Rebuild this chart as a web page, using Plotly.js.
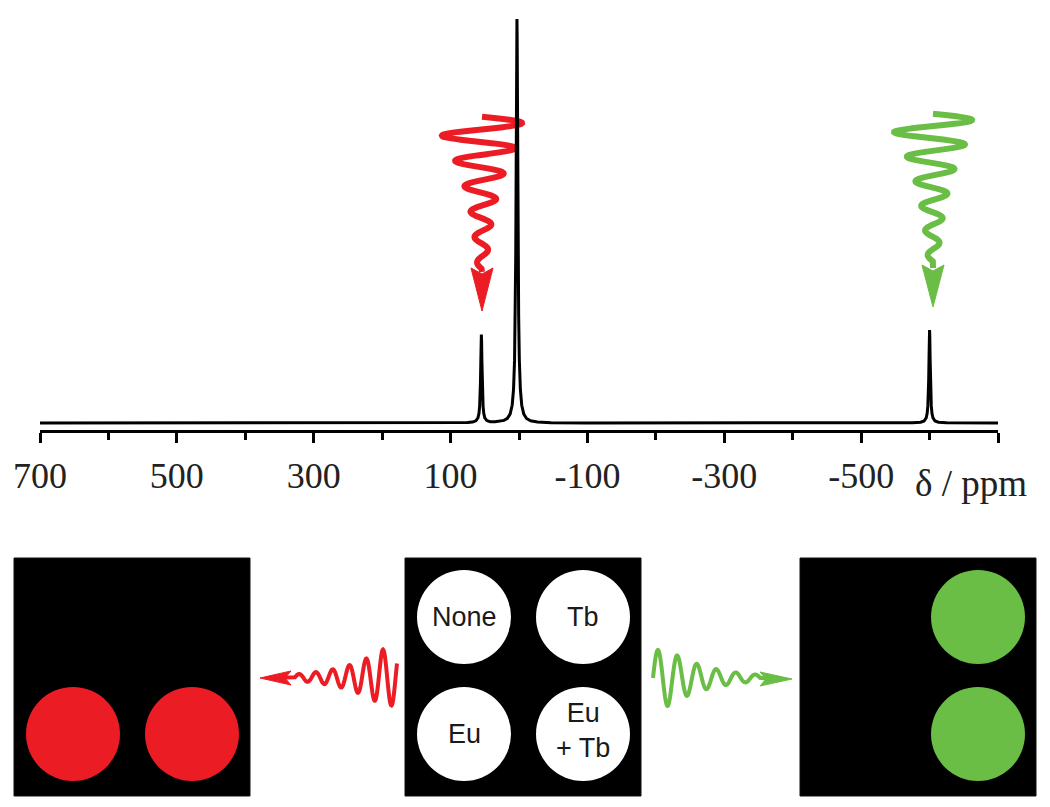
<!DOCTYPE html>
<html><head><meta charset="utf-8">
<script src="https://cdn.plot.ly/plotly-3.0.1.min.js"></script>
<style>html,body{margin:0;padding:0;background:#fff;} #chart{width:1050px;height:807px;}</style>
</head><body><div id="chart"></div>
<script>
// ---- spectrum data (chemical shift in ppm, intensity in arbitrary units) ----
const shiftPpm = [700, 400, 200, 120, 90, 75, 68, 63, 60, 58.5, 57.5, 56.8, 56.3, 55.8, 55.3, 55, 54.7, 54.2, 53.7, 53.2, 52.5, 51.5, 50, 47, 42, 35, 28, 22, 17, 13, 10, 8, 6.5, 5.5, 4.8, 4.2, 3.7, 3.3, 3, 2.7, 2.3, 1.8, 1.2, 0.5, -0.5, -2, -4, -7, -11, -17, -27, -47, -100, -300, -500, -560, -575, -587, -592, -595, -596.5, -597.5, -598.2, -598.7, -599.2, -599.7, -600, -600.3, -600.8, -601.3, -601.8, -602.5, -603.5, -605, -608, -613, -625, -650, -700];
const intensity = [0, 0.02, 0.05, 0.08, 0.1, 0.12, 0.23, 0.54, 1.26, 2.37, 4.2, 6.8, 10.1, 15.2, 20.6, 21.9, 20.6, 15.2, 10.1, 6.8, 4.2, 2.4, 1.3, 0.6, 0.33, 0.3, 0.4, 0.65, 1.15, 2.2, 4.4, 8.3, 15.5, 26.5, 41, 61, 82, 96, 100, 96, 82, 61, 41, 26.5, 15.5, 8.3, 4.4, 2.2, 1.13, 0.56, 0.25, 0.09, 0.02, 0, 0.01, 0.02, 0.05, 0.19, 0.5, 1.25, 2.4, 4.3, 7.1, 10.6, 15.9, 21.6, 23, 21.6, 15.9, 10.6, 7.1, 4.3, 2.4, 1.25, 0.5, 0.19, 0.05, 0.02, 0];

// ---- axis ticks ----
const tickValues = [700, 500, 300, 100, -100, -300, -500, -700];
const tickLabels = ['700', '500', '300', '100', '-100', '-300', '-500', ''];
const minorTickValues = [600, 400, 200, 0, -200, -400, -600];
const axisLabel = 'δ / ppm';

// ---- sample plate (2x2 wells) ----
const wellLabels = ['None', 'Tb', 'Eu', 'Eu<br>+ Tb'];
const europiumWells = [false, false, true, true];
const terbiumWells = [false, true, false, true];

const RED = '#ec1c24', GREEN = '#6abd45';
const W = 1050, H = 807;
const px = x => x / W, py = y => 1 - y / H;
function pathFrom(points, close) {
  return 'M' + points.map(p => px(p[0]).toFixed(5) + ',' + py(p[1]).toFixed(5)).join('L') + (close ? 'Z' : '');
}
// decaying vertical squiggle (amplitude flat until yRef, then decays)
function vWave(cx, y0, y1, yRef, A0, L, P) {
  const pts = [];
  for (let y = y0; y <= y1 + 1e-6; y += 0.5) {
    const A = A0 * Math.exp(-Math.max(0, y - yRef) / L);
    pts.push([cx + A * Math.sin(2 * Math.PI * (y - y0) / P), y]);
  }
  return pts;
}
// decaying horizontal squiggle
function hWave(xStart, dir, len, cy, tRef, A0, L, P, t0) {
  const pts = [];
  for (let t = 0; t <= len + 1e-6; t += 0.5) {
    const A = A0 * Math.exp(-Math.max(0, t - tRef) / L);
    pts.push([xStart + dir * t, cy - A * Math.sin(2 * Math.PI * (t - t0) / P)]);
  }
  return pts;
}

const shapes = [];
function addLine(pts, color, width, layer) {
  shapes.push({type: 'path', xref: 'paper', yref: 'paper', path: pathFrom(pts, false),
    line: {color: color, width: width}, layer: layer || 'above'});
}
function addFill(pts, color, layer) {
  shapes.push({type: 'path', xref: 'paper', yref: 'paper', path: pathFrom(pts, true),
    fillcolor: color, line: {color: color, width: 1}, layer: layer || 'above'});
}

// red wavy arrow (top, towards the Eu peak)
let rw = vWave(482, 116.65, 116.65 + 12 * 12.7, 137, 40, 60, 25.4);
rw.push([482, 272]);
addLine(rw, RED, 6, 'below');
addFill([[471, 268], [482, 311], [493, 268], [482, 274]], RED, 'below');

// green wavy arrow (top, towards the Tb peak)
let gw = vWave(933, 113.85, 113.85 + 12 * 12.3, 132, 39, 62, 24.6);
gw.push([933, 268]);
addLine(gw, GREEN, 6, 'below');
addFill([[922, 265], [933, 307], [944, 265], [933, 271]], GREEN, 'below');

// bottom red wavy arrow (pointing left)
let brw = hWave(397, -1, 9.8 + 11 * 8.4, 677.5, 15, 28, 40, 16.8, 9.8);
brw.push([285, 677.5]);
addLine(brw, RED, 4);
addFill([[291, 671], [260, 678], [291, 685], [285, 678]], RED);

// bottom green wavy arrow (pointing right)
let bgw = hWave(653, 1, 11 * 9.75, 678, 15, 28, 42, 19.5, 0);
bgw.push([766, 678.5]);
addLine(bgw, GREEN, 4);
addFill([[760, 672], [792, 679], [760, 686], [766, 679]], GREEN);

// plate panels
const panels = [
  {x0: 14, mode: 'eu'},
  {x0: 405, mode: 'white'},
  {x0: 800, mode: 'tb'}
];
const panelTop = 558, panelW = 236, panelH = 238;
const colOff = [59, 178], rowOff = [59, 176], R = 47;
const annotations = [];
panels.forEach(p => {
  shapes.push({type: 'rect', xref: 'paper', yref: 'paper', x0: px(p.x0), x1: px(p.x0 + panelW),
    y0: py(panelTop + panelH), y1: py(panelTop), fillcolor: '#000', line: {color: '#111', width: 1}});
  for (let i = 0; i < 4; i++) {
    const cx = p.x0 + colOff[i % 2], cy = panelTop + rowOff[Math.floor(i / 2)];
    let fill = null;
    if (p.mode === 'white') fill = '#fff';
    else if (p.mode === 'eu' && europiumWells[i]) fill = RED;
    else if (p.mode === 'tb' && terbiumWells[i]) fill = GREEN;
    if (!fill) continue;
    shapes.push({type: 'circle', xref: 'paper', yref: 'paper', x0: px(cx - R), x1: px(cx + R),
      y0: py(cy + R), y1: py(cy - R), fillcolor: fill, line: {color: fill, width: 0}});
    if (p.mode === 'white') {
      annotations.push({xref: 'paper', yref: 'paper', x: px(cx), y: py(i === 3 ? cy - 4 : cy),
        text: wellLabels[i], showarrow: false, xanchor: 'center', yanchor: 'middle',
        font: {family: 'Liberation Sans, Arial, sans-serif', size: 27, color: '#1a1a1a'}});
    }
  }
});

annotations.push({xref: 'paper', yref: 'paper', x: px(971), y: py(483), text: axisLabel,
  showarrow: false, xanchor: 'center', yanchor: 'middle',
  font: {family: 'Liberation Serif, serif', size: 37, color: '#222'}});

const trace = {x: shiftPpm, y: intensity, type: 'scatter', mode: 'lines',
  line: {color: '#000', width: 3}, hoverinfo: 'skip', showlegend: false};

const layout = {
  width: W, height: H,
  margin: {l: 0, r: 0, t: 0, b: 0, pad: 0},
  paper_bgcolor: '#fff', plot_bgcolor: 'rgba(0,0,0,0)',
  showlegend: false,
  xaxis: {domain: [40 / W, 998 / W], range: [700, -700], autorange: false,
    showline: true, linewidth: 3, linecolor: '#000', mirror: false,
    ticks: 'outside', ticklen: 10, tickwidth: 3, tickcolor: '#000',
    tickmode: 'array', tickvals: tickValues, ticktext: tickLabels,
    tickfont: {family: 'Liberation Serif, serif', size: 36, color: '#222'},
    ticklabelstandoff: 2,
    minor: {tickmode: 'array', tickvals: minorTickValues, ticks: 'outside', ticklen: 7,
      tickwidth: 3, tickcolor: '#000', showgrid: false},
    showgrid: false, zeroline: false, fixedrange: true},
  yaxis: {domain: [(H - 430) / H, 1], range: [-1.73, 104.7], autorange: false,
    visible: false, showgrid: false, zeroline: false, fixedrange: true},
  shapes: shapes,
  annotations: annotations
};

Plotly.newPlot('chart', [trace], layout, {staticPlot: true, displayModeBar: false});
</script>
</body></html>
